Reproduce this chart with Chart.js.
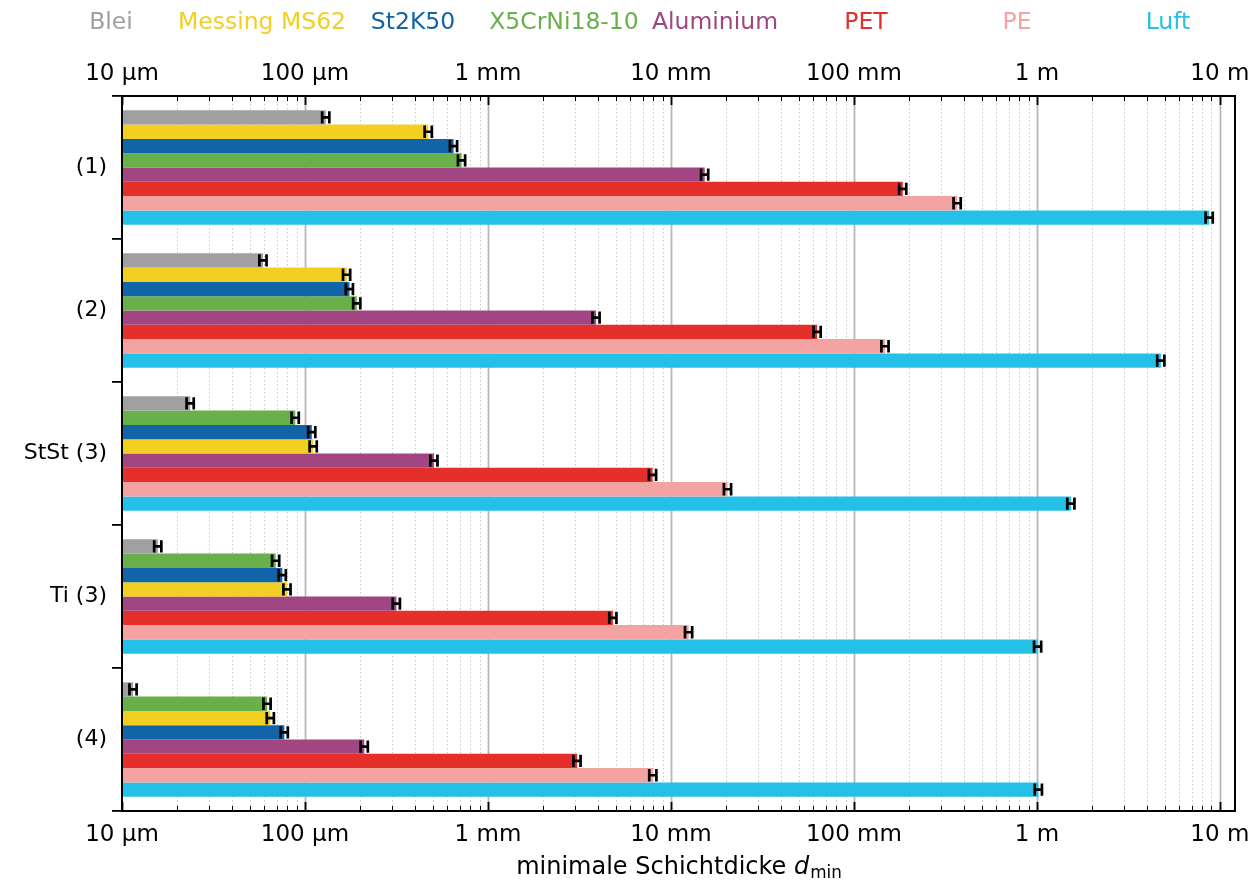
<!DOCTYPE html>
<html lang="de">
<head>
<meta charset="utf-8">
<title>Minimale Schichtdicke</title>
<script src="https://cdn.jsdelivr.net/npm/chart.js@4.4.1/dist/chart.umd.min.js"></script>
<style>
  html, body { margin: 0; padding: 0; background: #fff; }
  #wrap { width: 1259px; height: 881px; }
</style>
</head>
<body>
<div id="wrap"><canvas id="chart" width="1259" height="881"></canvas></div>
<script>
// Versuchsreihen (y-Kategorien)
const GROUPS = ['(1)', '(2)', 'StSt (3)', 'Ti (3)', '(4)'];

// Materialien + Farben
const MATERIALS = ['Blei', 'Messing MS62', 'St2K50', 'X5CrNi18-10', 'Aluminium', 'PET', 'PE', 'Luft'];
const COLORS = ['#a0a0a0', '#f2cf21', '#1064a7', '#69b04a', '#a14682', '#e52f2b', '#f4a3a3', '#25c0e8'];

// minimale Schichtdicke in m, je Versuchsreihe
const blei      = [1.30e-4, 5.9e-5, 2.36e-5, 1.57e-5, 1.15e-5];
const messing   = [4.72e-4, 1.69e-4, 1.11e-4, 7.98e-5, 6.47e-5];
const st2k50    = [6.49e-4, 1.75e-4, 1.09e-4, 7.52e-5, 7.71e-5];
const x5crni    = [7.18e-4, 1.92e-4, 8.85e-5, 6.92e-5, 6.21e-5];
const aluminium = [1.53e-2, 3.9e-3, 5.07e-4, 3.16e-4, 2.11e-4];
const pet       = [0.185, 0.063, 7.94e-3, 4.82e-3, 3.07e-3];
const pe        = [0.367, 0.148, 0.0204, 0.0125, 7.97e-3];
const luft      = [8.75, 4.76, 1.535, 1.01, 1.02];

const VALUES = [blei, messing, st2k50, x5crni, aluminium, pet, pe, luft];
const REL_ERR = 0.045;

// Achsenbeschriftung
const TICK_VALUES = [1e-5, 1e-4, 1e-3, 1e-2, 1e-1, 1, 10];
const TICK_LABELS = ['10 µm', '100 µm', '1 mm', '10 mm', '100 mm', '1 m', '10 m'];
const X_MIN = 1e-5, X_MAX = 12.1;

const FONT = "'DejaVu Sans', sans-serif";

// innerhalb jeder Reihe nach Größe sortiert -> Balken-Slots
const orders = GROUPS.map((_, g) => VALUES.map((_, m) => m).sort((a, b) => VALUES[a][g] - VALUES[b][g]));
const datasets = MATERIALS.map((_, s) => ({
  label: 'slot' + s,
  data: GROUPS.map((_, g) => VALUES[orders[g][s]][g]),
  backgroundColor: GROUPS.map((_, g) => COLORS[orders[g][s]]),
  borderWidth: 0,
  categoryPercentage: 0.8,
  barPercentage: 1.0
}));

const decorations = {
  id: 'decorations',
  beforeDatasetsDraw(chart) {
    const { ctx, chartArea: a, scales: { x } } = chart;
    ctx.save();
    for (let e = -5; e <= 1; e++) {
      for (let m = 1; m <= 9; m++) {
        const v = m * Math.pow(10, e);
        if (v <= X_MIN || v > X_MAX) continue;
        const px = Math.round(x.getPixelForValue(v)) + 0.5;
        ctx.beginPath();
        if (m === 1) { ctx.strokeStyle = '#b8b8b8'; ctx.lineWidth = 1.8; ctx.setLineDash([]); }
        else { ctx.strokeStyle = '#c8c8c8'; ctx.lineWidth = 1; ctx.setLineDash([1.5, 2.5]); }
        ctx.moveTo(px, a.top); ctx.lineTo(px, a.bottom);
        ctx.stroke();
      }
    }
    ctx.restore();
  },
  afterDatasetsDraw(chart) {
    const { ctx, scales: { x } } = chart;
    ctx.save();
    ctx.strokeStyle = '#000';
    ctx.lineWidth = 2.7;
    chart.data.datasets.forEach((ds, i) => {
      chart.getDatasetMeta(i).data.forEach((bar, j) => {
        const v = ds.data[j];
        const xl = x.getPixelForValue(v * (1 - REL_ERR));
        const xr = x.getPixelForValue(v * (1 + REL_ERR));
        const hh = bar.height / 2 - 1;
        ctx.beginPath();
        ctx.moveTo(xl, bar.y); ctx.lineTo(xr, bar.y);
        ctx.moveTo(xl, bar.y - hh); ctx.lineTo(xl, bar.y + hh);
        ctx.moveTo(xr, bar.y - hh); ctx.lineTo(xr, bar.y + hh);
        ctx.stroke();
      });
    });
    ctx.restore();
  },
  afterDraw(chart) {
    const { ctx, chartArea: a, scales: { x } } = chart;
    ctx.save();
    // Ticks innen, oben und unten
    ctx.strokeStyle = '#000';
    for (let e = -5; e <= 1; e++) {
      for (let m = 1; m <= 9; m++) {
        const v = m * Math.pow(10, e);
        if (v < X_MIN || v > X_MAX) continue;
        const px = Math.round(x.getPixelForValue(v)) + 0.5;
        const len = m === 1 ? 9 : 5;
        ctx.lineWidth = m === 1 ? 1.8 : 1;
        ctx.beginPath();
        ctx.moveTo(px, a.bottom); ctx.lineTo(px, a.bottom - len);
        ctx.moveTo(px, a.top); ctx.lineTo(px, a.top + len);
        ctx.stroke();
      }
    }
    // Rahmen
    ctx.lineWidth = 2;
    ctx.strokeRect(a.left, a.top, a.right - a.left, a.bottom - a.top);

    // Tick-Beschriftung
    ctx.fillStyle = '#000';
    ctx.font = '23px ' + FONT;
    ctx.textAlign = 'center';
    ctx.textBaseline = 'middle';
    TICK_VALUES.forEach((v, i) => {
      const px = x.getPixelForValue(v);
      ctx.fillText(TICK_LABELS[i], px, a.bottom + 24);
      ctx.fillText(TICK_LABELS[i], px, a.top - 22);
    });

    // Legende als farbiger Text
    ctx.font = '23.5px ' + FONT;
    MATERIALS.forEach((name, i) => {
      ctx.fillStyle = COLORS[i];
      ctx.fillText(name, 111 + i * 151, 23);
    });

    // x-Achsentitel mit d_min
    const t1 = 'minimale Schichtdicke ';
    ctx.font = '24px ' + FONT;
    const w1 = ctx.measureText(t1).width;
    ctx.font = 'italic 24px ' + FONT;
    const w2 = ctx.measureText('d').width;
    ctx.font = '16.8px ' + FONT;
    const w3 = ctx.measureText('min').width;
    let cx = (a.left + a.right) / 2 - (w1 + w2 + w3) / 2;
    const base = 874;
    ctx.textAlign = 'left';
    ctx.textBaseline = 'alphabetic';
    ctx.fillStyle = '#000';
    ctx.font = '24px ' + FONT;
    ctx.fillText(t1, cx, base); cx += w1;
    ctx.font = 'italic 24px ' + FONT;
    ctx.fillText('d', cx, base); cx += w2;
    ctx.font = '16.8px ' + FONT;
    ctx.fillText('min', cx + 1, base + 4);
    ctx.restore();
  }
};

new Chart(document.getElementById('chart'), {
  type: 'bar',
  data: { labels: GROUPS, datasets },
  options: {
    indexAxis: 'y',
    responsive: false,
    devicePixelRatio: 1,
    animation: false,
    layout: { padding: { left: 0, right: 24, top: 0, bottom: 0 } },
    plugins: { legend: { display: false }, tooltip: { enabled: false } },
    scales: {
      x: {
        type: 'logarithmic', position: 'bottom', min: X_MIN, max: X_MAX,
        grid: { display: false }, border: { display: false },
        ticks: { display: false },
        afterFit: s => { s.height = 70; }
      },
      x2: {
        type: 'logarithmic', axis: 'x', position: 'top', min: X_MIN, max: X_MAX,
        grid: { display: false }, border: { display: false },
        ticks: { display: false },
        afterFit: s => { s.height = 96; }
      },
      y: {
        type: 'category',
        grid: { display: true, drawOnChartArea: false, drawTicks: true, tickLength: 10, color: '#000', lineWidth: 1.8 },
        border: { display: false },
        ticks: { color: '#000', font: { family: FONT, size: 22 }, padding: 5 },
        afterFit: s => { s.width = 122; }
      }
    }
  },
  plugins: [decorations]
});
</script>
</body>
</html>
